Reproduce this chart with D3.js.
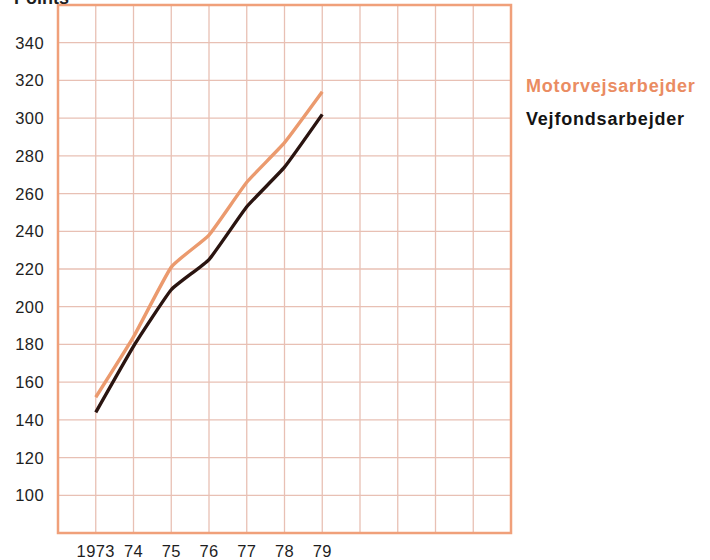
<!DOCTYPE html>
<html>
<head>
<meta charset="utf-8">
<script src="https://cdn.jsdelivr.net/npm/d3@7"></script>
<style>
  body { margin: 0; background: #fff; }
  svg { display: block; font-family: "Liberation Sans", Arial, sans-serif; }
</style>
</head>
<body>
<svg id="chart" width="710" height="560"></svg>
<script>
// data
const years = [1973, 1974, 1975, 1976, 1977, 1978, 1979];
const yearLabels = ['1973', '74', '75', '76', '77', '78', '79'];
const motorvej = [152, 184, 221, 238, 266, 287, 314];
const vejfonds = [144, 179, 209, 225, 253, 274, 302];
const yTicks = [100, 120, 140, 160, 180, 200, 220, 240, 260, 280, 300, 320, 340];
const seriesNames = ['Motorvejsarbejder', 'Vejfondsarbejder'];

const svg = d3.select('#chart');
const plotL = 58, plotR = 511, plotT = 5, plotB = 533;

const x = d3.scaleLinear().domain([1972, 1984]).range([plotL, plotR]);
const y = d3.scaleLinear().domain([80, 360]).range([plotB, plotT]);

// grid
const grid = svg.append('g');
grid.selectAll('line.v').data(d3.range(1973, 1984)).join('line')
  .attr('class', 'v')
  .attr('x1', d => x(d)).attr('x2', d => x(d))
  .attr('y1', plotT).attr('y2', plotB)
  .attr('stroke', '#e8c0b4').attr('stroke-width', 1.3);
grid.selectAll('line.h').data(d3.range(100, 360, 20)).join('line')
  .attr('class', 'h')
  .attr('x1', plotL).attr('x2', plotR)
  .attr('y1', d => y(d)).attr('y2', d => y(d))
  .attr('stroke', '#e8c0b4').attr('stroke-width', 1.3);

// frame
svg.append('rect')
  .attr('x', plotL).attr('y', plotT)
  .attr('width', plotR - plotL).attr('height', plotB - plotT)
  .attr('fill', 'none').attr('stroke', '#f0a07a').attr('stroke-width', 2.5);

// y axis labels
svg.append('g').selectAll('text').data(yTicks).join('text')
  .attr('x', 44).attr('y', d => y(d) + 6)
  .attr('text-anchor', 'end')
  .attr('font-size', 16.5).attr('fill', '#1e1e1e')
  .attr('letter-spacing', 0.4)
  .text(d => d);

// x axis labels
svg.append('g').selectAll('text').data(years).join('text')
  .attr('x', d => x(d)).attr('y', 557)
  .attr('text-anchor', 'middle')
  .attr('font-size', 16.5).attr('fill', '#1e1e1e')
  .attr('letter-spacing', 0.4)
  .text((d, i) => yearLabels[i]);

// title (cut off at top, as in the source)
svg.append('text')
  .attr('x', 14).attr('y', 4)
  .attr('font-size', 18).attr('font-weight', 'bold').attr('fill', '#1e1e1e')
  .text('Points');

// lines
const line = d3.line()
  .x((d, i) => x(years[i]))
  .y(d => y(d))
  .curve(d3.curveCardinal.tension(0.6));

svg.append('path').datum(vejfonds)
  .attr('d', line)
  .attr('fill', 'none').attr('stroke', '#2a1410').attr('stroke-width', 3.4);

svg.append('path').datum(motorvej)
  .attr('d', line)
  .attr('fill', 'none').attr('stroke', '#eb9a6e').attr('stroke-width', 3.4);

// legend
svg.append('text')
  .attr('x', 526).attr('y', 92)
  .attr('font-size', 18).attr('font-weight', 'bold').attr('fill', '#ea8c62')
  .attr('letter-spacing', 0.8)
  .text(seriesNames[0]);
svg.append('text')
  .attr('x', 526).attr('y', 125)
  .attr('font-size', 18).attr('font-weight', 'bold').attr('fill', '#141414')
  .attr('letter-spacing', 0.8)
  .text(seriesNames[1]);
</script>
</body>
</html>
